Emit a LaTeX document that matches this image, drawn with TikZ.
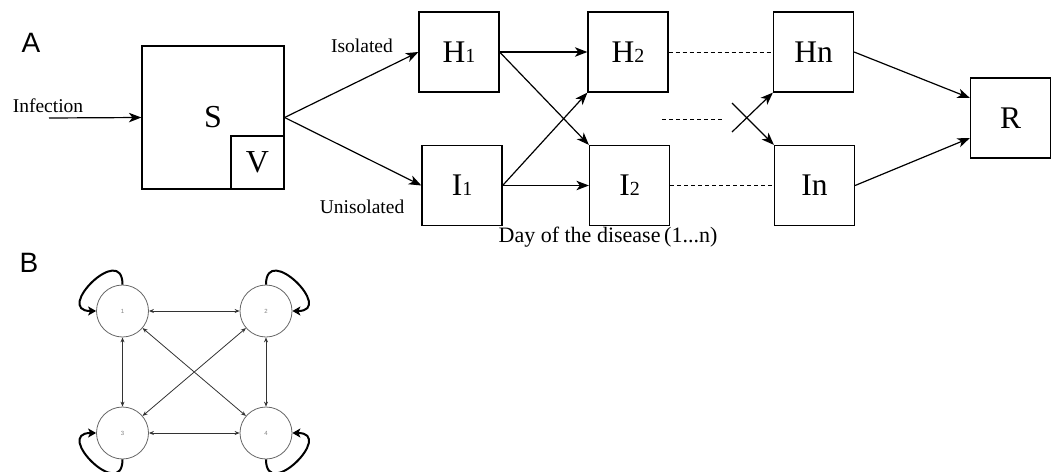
\documentclass[tikz,border=0pt]{standalone}
\usepackage{fontspec}
\setmainfont{Liberation Serif}
\newfontfamily\lsans{Liberation Sans}
\usetikzlibrary{arrows.meta}
\begin{document}
\begin{tikzpicture}[x=1pt,y=-1pt,
  box/.style={draw,line width=1.2pt,minimum width=80pt,minimum height=80pt,inner sep=0pt,font=\fontsize{31.5}{31.5}\selectfont},
  arr/.style={-{Stealth[length=12.5pt,width=9.5pt,inset=3.5pt]},line width=1.2pt},
  dsh/.style={line width=1pt,dash pattern=on 4pt off 3pt},
  lbl/.style={inner sep=0pt,font=\fontsize{19.5}{19.5}\selectfont},
  panel/.style={inner sep=0pt,font=\lsans\fontsize{28}{28}\selectfont},
  circ/.style={draw=black!60,line width=0.8pt,circle,minimum size=52pt,inner sep=0pt,text=black!50,font=\lsans\fontsize{6}{6}\selectfont},
  edge/.style={{Stealth[length=5pt,width=4pt]}-{Stealth[length=5pt,width=4pt]},line width=0.8pt,draw=black!80},
  loop/.style={-{Stealth[length=8pt,width=9pt,inset=2pt]},line width=2pt}
]
\useasboundingbox (0,0) rectangle (1054,471);
% Panel A
\node[panel] (A) at (31,43) {A};
\node[draw,line width=1.2pt,minimum width=142pt,minimum height=143pt,inner sep=0pt,font=\fontsize{32}{32}\selectfont] (S) at (213,117.5) {S};
\node[draw,line width=1.2pt,minimum width=53pt,minimum height=53pt,inner sep=0pt,font=\fontsize{32}{32}\selectfont,anchor=south east] (V) at (S.south east) {V};
\coordinate (inf) at (49,118);
\node[lbl] (inft) at (48,106) {Infection};
\draw[arr] (inf) -- (S.west);
\newcommand{\sm}[1]{{\fontsize{20}{20}\selectfont #1}}
\node[box] (H1) at (459,52) {H\sm{1}};
\node[box] (I1) at (462,185.5) {I\sm{1}};
\node[box] (H2) at (628,52) {H\sm{2}};
\node[box] (I2) at (629.5,185.5) {I\sm{2}};
\node[box] (Hn) at (813.5,52) {Hn};
\node[box] (In) at (814.5,185.5) {In};
\node[box] (R) at (1010.5,118) {R};
\node[lbl] (iso) at (362,46) {Isolated};
\node[lbl] (uniso) at (362,207) {Unisolated};
\node[inner sep=0pt,font=\fontsize{22}{22}\selectfont] (day) at (608,237) {Day of the disease\,(1...n)};
\draw[arr] (S.east) -- (H1.west);
\draw[arr] (S.east) -- (I1.west);
\draw[arr] (H1.east) -- (H2.west);
\draw[arr] (H1.east) -- (I2.north west);
\draw[arr] (I1.east) -- (H2.south west);
\draw[arr] (I1.east) -- (I2.west);
\draw[dsh] (H2.east) -- (Hn.west);
\draw[dsh] (I2.east) -- (In.west);
\coordinate (m1) at (662,119);
\coordinate (m2) at (723,119);
\draw[dsh] (m1) -- (m2);
\coordinate (x1) at (732,132);
\coordinate (x2) at (732,103);
\draw[arr] (x1) -- (Hn.south west);
\draw[arr] (x2) -- (In.north west);
\draw[arr] (Hn.east) -- ([yshift=20pt]R.west);
\draw[arr] (In.east) -- ([yshift=-20pt]R.west);
% Panel B
\node[panel] (B) at (29,263) {B};
\node[circ] (c1) at (122.5,311) {1};
\node[circ] (c2) at (266,311) {2};
\node[circ] (c3) at (122.5,433) {3};
\node[circ] (c4) at (266,433) {4};
\draw[edge] (c1) -- (c2);
\draw[edge] (c1) -- (c3);
\draw[edge] (c2) -- (c4);
\draw[edge] (c3) -- (c4);
\draw[edge] (c1) -- (c4);
\draw[edge] (c2) -- (c3);
\draw[loop] (c1.north) .. controls +(0,-43) and +(-43,0) .. (c1.west);
\draw[loop] (c2.north) .. controls +(0,-43) and +(43,0) .. (c2.east);
\draw[loop] (c3.south) .. controls +(0,43) and +(-43,0) .. (c3.west);
\draw[loop] (c4.south) .. controls +(0,43) and +(43,0) .. (c4.east);
\end{tikzpicture}
\end{document}
